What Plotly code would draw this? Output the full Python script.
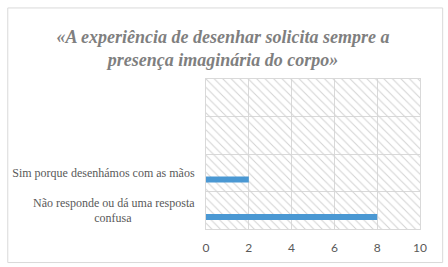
import plotly.graph_objects as go

# ---- data ----
categories = ["Não responde ou dá uma resposta<br>confusa" + "\u00a0" * 21,
              "Sim porque desenhámos com as mãos", "", ""]
values = [8, 2, None, None]
x_ticks = [0, 2, 4, 6, 8, 10]
title_text = "«A experiência de desenhar solicita sempre a<br>presença imaginária do corpo»"

n = len(categories)
pos = list(range(n))
xmax = x_ticks[-1]

fig = go.Figure()

# hatched plot-area background (decoration)
fig.add_trace(go.Bar(
    x=[xmax], y=[(n - 1) / 2], width=[n], base=0, orientation="h",
    marker=dict(color="rgba(0,0,0,0)", line=dict(width=0),
                pattern=dict(shape="\\", fgcolor="#d4d4d4", bgcolor="rgba(0,0,0,0)",
                             size=6, solidity=0.18, fillmode="replace")),
    hoverinfo="skip", showlegend=False))

# data bars
fig.add_trace(go.Bar(
    x=values, y=pos, orientation="h", width=0.16, offset=-0.26,
    marker=dict(color="#4a98d3", line=dict(width=0)), showlegend=False))

grid = "#d9d9d9"
fig.update_layout(
    width=448, height=267,
    margin=dict(l=203, r=28, t=79, b=36),
    paper_bgcolor="white", plot_bgcolor="white",
    barmode="overlay",
    title=dict(text=title_text, x=223 / 448, xref="container", xanchor="center",
               y=1 - 43 / 267, yref="container", yanchor="middle",
               font=dict(family="Liberation Serif", size=18, color="#7f7f7f",
                         weight="bold", style="italic")),
    xaxis=dict(range=[0, xmax], tickvals=x_ticks, showgrid=True, gridcolor=grid, gridwidth=1,
               zeroline=False, showline=True, linecolor=grid, mirror=True,
               ticks="outside", ticklen=8, tickcolor="rgba(0,0,0,0)",
               tickfont=dict(family="Lato", size=12, color="#595959"), fixedrange=True),
    yaxis=dict(range=[-0.5, n - 0.5], tickvals=pos, ticktext=categories, showgrid=False,
               zeroline=False, showline=True, linecolor=grid, mirror=True,
               ticks="outside", ticklen=8, tickcolor="rgba(0,0,0,0)",
               minor=dict(tickvals=[p - 0.5 for p in pos] + [n - 0.5], showgrid=True,
                          gridcolor=grid, gridwidth=1),
               tickfont=dict(family="Liberation Serif", size=12, color="#595959")),
    shapes=[dict(type="rect", xref="paper", yref="paper",
                 x0=(2 - 203) / 217, x1=(443 - 203) / 217,
                 y0=(231 - 265) / 152, y1=(231 - 7) / 152,
                 line=dict(color="#d9d9d9", width=1), fillcolor="rgba(0,0,0,0)", layer="below")],
)

fig.write_html("out.html")
